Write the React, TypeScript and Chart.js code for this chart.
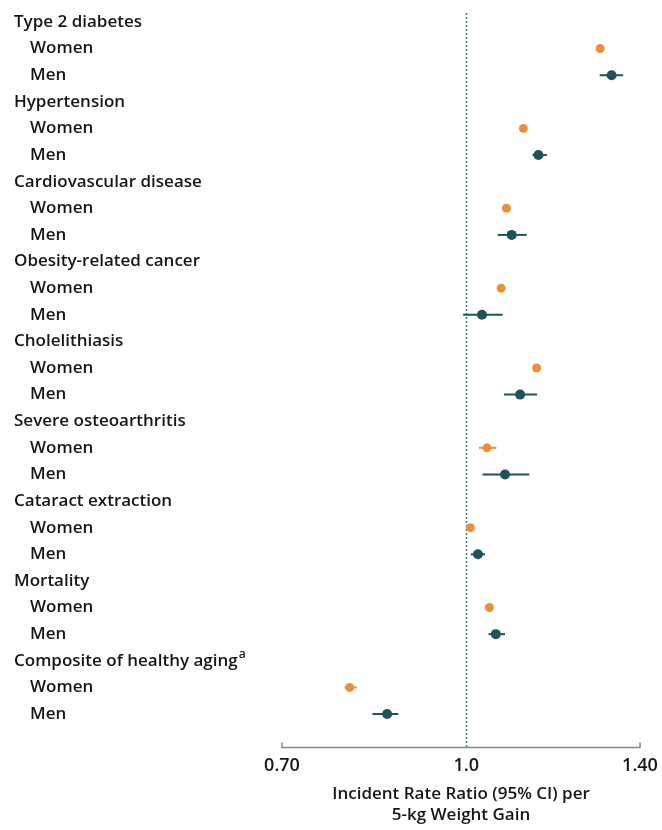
import React, { useEffect, useRef } from "react";
import { Chart, registerables } from "chart.js";

Chart.register(...registerables);

const categories = [
  "Type 2 diabetes",
  "Hypertension",
  "Cardiovascular disease",
  "Obesity-related cancer",
  "Cholelithiasis",
  "Severe osteoarthritis",
  "Cataract extraction",
  "Mortality",
  "Composite of healthy aging",
];
const superscripts = ["", "", "", "", "", "", "", "", "a"];
const groups = ["Women", "Men"];

const womenIRR = [1.296, 1.117, 1.081, 1.07, 1.146, 1.041, 1.008, 1.046, 0.798];
const womenLo = [1.287, 1.111, 1.074, 1.063, 1.139, 1.025, 1.003, 1.04, 0.79];
const womenHi = [1.305, 1.123, 1.088, 1.077, 1.153, 1.06, 1.013, 1.052, 0.809];

const menIRR = [1.325, 1.15, 1.092, 1.031, 1.11, 1.078, 1.023, 1.059, 0.858];
const menLo = [1.295, 1.137, 1.063, 0.994, 1.076, 1.032, 1.009, 1.044, 0.834];
const menHi = [1.355, 1.169, 1.124, 1.073, 1.147, 1.13, 1.037, 1.078, 0.877];

const xTicks = [0.7, 1.0, 1.4];
const xTickLabels = ["0.70", "1.0", "1.40"];
const xTitle = ["Incident Rate Ratio (95% CI) per", "5-kg Weight Gain"];

const WOMEN_COLOR = "#E8913A";
const MEN_COLOR = "#1F525D";
const TEXT_COLOR = "#161616";
const FONT = "'Open Sans', sans-serif";
const WEIGHT = 600;

type Row = { text: string; sup: string; indent: boolean };
const rows: Row[] = [];
categories.forEach((c, i) => {
  rows.push({ text: c, sup: superscripts[i], indent: false });
  groups.forEach((g) => rows.push({ text: g, sup: "", indent: true }));
});

const womenPoints = womenIRR.map((v, i) => ({ x: v, y: i * 3 + 1, lo: womenLo[i], hi: womenHi[i] }));
const menPoints = menIRR.map((v, i) => ({ x: v, y: i * 3 + 2, lo: menLo[i], hi: menHi[i] }));

const forestPlugin = {
  id: "forest",
  beforeDatasetsDraw(chart: any) {
    const { ctx, chartArea, scales } = chart;
    const xs = scales.x;
    const ys = scales.y;
    ctx.save();
    // reference line at 1.0
    const x1 = Math.round(xs.getPixelForValue(1.0)) + 0.5;
    ctx.strokeStyle = "#3a7a9c";
    ctx.lineWidth = 1.5;
    ctx.setLineDash([2, 2]);
    ctx.beginPath();
    ctx.moveTo(x1, chartArea.top + 5);
    ctx.lineTo(x1, chartArea.bottom);
    ctx.stroke();
    ctx.setLineDash([]);
    // axis line with end ticks
    const yb = chartArea.bottom + 0.5;
    const xl = xs.getPixelForValue(xTicks[0]);
    const xr = xs.getPixelForValue(xTicks[xTicks.length - 1]);
    ctx.strokeStyle = "#6f8e95";
    ctx.lineWidth = 1.5;
    ctx.beginPath();
    ctx.moveTo(xl, yb - 5);
    ctx.lineTo(xl, yb);
    ctx.lineTo(xr, yb);
    ctx.lineTo(xr, yb - 5);
    ctx.stroke();
    // CI lines
    chart.data.datasets.forEach((ds: any) => {
      ctx.strokeStyle = ds.backgroundColor;
      ctx.lineWidth = 2;
      ds.data.forEach((p: any) => {
        const y = ys.getPixelForValue(p.y);
        ctx.beginPath();
        ctx.moveTo(xs.getPixelForValue(p.lo), y);
        ctx.lineTo(xs.getPixelForValue(p.hi), y);
        ctx.stroke();
      });
    });
    ctx.restore();
  },
  afterDraw(chart: any) {
    const { ctx, scales } = chart;
    const ys = scales.y;
    ctx.save();
    ctx.fillStyle = TEXT_COLOR;
    ctx.textBaseline = "middle";
    ctx.textAlign = "left";
    rows.forEach((r, i) => {
      const y = ys.getPixelForValue(i);
      const x = r.indent ? 30 : 14;
      ctx.font = `${WEIGHT} 17px ${FONT}`;
      ctx.fillText(r.text, x, y);
      if (r.sup) {
        const w = ctx.measureText(r.text).width;
        ctx.font = `${WEIGHT} 12px ${FONT}`;
        ctx.fillText(r.sup, x + w + 1, y - 6);
      }
    });
    ctx.restore();
  },
};

export default function App() {
  const ref = useRef<HTMLCanvasElement>(null);
  useEffect(() => {
    if (!ref.current) return;
    const chart = new Chart(ref.current, {
      type: "scatter",
      data: {
        datasets: [
          {
            label: "Women",
            data: womenPoints as any,
            backgroundColor: WOMEN_COLOR,
            borderColor: WOMEN_COLOR,
            pointRadius: 4.5,
            pointBorderWidth: 0,
          },
          {
            label: "Men",
            data: menPoints as any,
            backgroundColor: MEN_COLOR,
            borderColor: MEN_COLOR,
            pointRadius: 5,
            pointBorderWidth: 0,
          },
        ],
      },
      options: {
        animation: false,
        responsive: true,
        maintainAspectRatio: false,
        layout: { padding: { left: 282, right: 22, top: 8, bottom: 0 } },
        plugins: {
          legend: { display: false },
          tooltip: { enabled: false },
        },
        scales: {
          x: {
            type: "logarithmic",
            min: 0.7,
            max: 1.4,
            afterBuildTicks: (s: any) => {
              s.ticks = xTicks.map((v) => ({ value: v }));
            },
            afterFit: (s: any) => {
              s.height = 83;
              s.paddingLeft = 0;
              s.paddingRight = 0;
            },
            grid: { display: false, drawTicks: false },
            border: { display: false },
            ticks: {
              autoSkip: false,
              maxRotation: 0,
              padding: 8,
              color: TEXT_COLOR,
              font: { family: FONT, size: 18, weight: WEIGHT as any },
              callback: (v: any) => {
                const idx = xTicks.findIndex((t) => Math.abs(t - v) < 1e-6);
                return idx >= 0 ? xTickLabels[idx] : "";
              },
            },
            title: {
              display: true,
              text: xTitle,
              color: TEXT_COLOR,
              font: { family: FONT, size: 17, lineHeight: 1.2, weight: WEIGHT as any },
              padding: { top: 0, bottom: 5 },
            },
          },
          y: {
            type: "linear",
            reverse: true,
            min: -0.525,
            max: 27.24,
            display: false,
          },
        },
      },
      plugins: [forestPlugin],
    });
    return () => chart.destroy();
  }, []);
  return (
    <div
      style={{
        position: "absolute",
        left: 0,
        top: 0,
        width: 662,
        height: 830,
        overflow: "hidden",
      }}
    >
      <canvas ref={ref} />
    </div>
  );
}
